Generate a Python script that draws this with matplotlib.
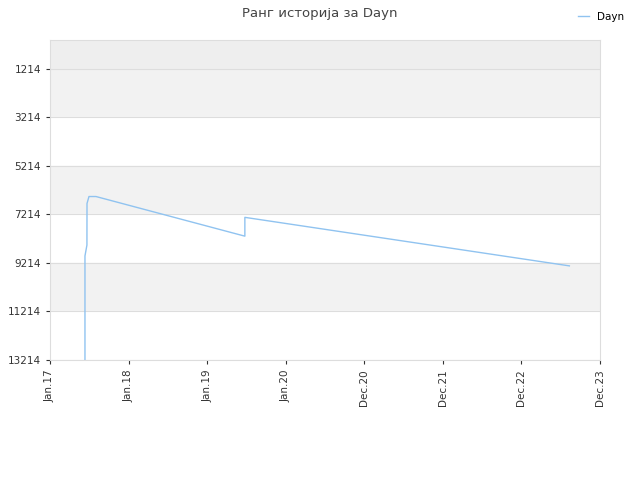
import matplotlib
matplotlib.use("Agg")
import matplotlib.pyplot as plt

x_vals = [0.445, 0.445, 0.47, 0.471, 0.496, 0.585, 2.48, 2.48, 6.61]
ranks = [13214, 8928, 8479, 6765, 6479, 6479, 8112, 7337, 9336]
tick_labels = ["Jan.17", "Jan.18", "Jan.19", "Jan.20", "Dec.20", "Dec.21", "Dec.22", "Dec.23"]
y_ticks = [1214, 3214, 5214, 7214, 9214, 11214, 13214]

fig = plt.figure(figsize=(6.4, 4.8), dpi=100)
ax = fig.add_axes([50/640, 1-360/480, 550/640, 320/480])
top = 1214 - 29/49*2000
ax.set_ylim(13214, top)
ax.set_xlim(0, 7)

# alternating bands
ax.axhspan(top, 1214, color="#eeeeee", zorder=0)
for i, (a, b) in enumerate(zip(y_ticks[:-1], y_ticks[1:])):
    ax.axhspan(a, b, color="#f2f2f2" if i % 2 == 0 else "white", zorder=0)
for t in y_ticks:
    ax.axhline(t, color="#dddddd", lw=0.8, zorder=1)

ax.plot(x_vals, ranks, color="#90c3f0", lw=1, label="Dayn", zorder=2)
ax.set_yticks(y_ticks)
ax.set_xticks(range(8))
ax.set_xticklabels(tick_labels, rotation=90)
ax.tick_params(labelsize=7.5, colors="#333333", length=3)
for s in ax.spines.values():
    s.set_color("#dddddd")
fig.suptitle("Ранг историја за Dayn", fontsize=9.5, color="#444444", y=0.985)
fig.legend(loc="upper right", bbox_to_anchor=(0.99, 0.995), frameon=False, fontsize=7.5, handlelength=1)
fig.savefig("out.png", dpi=100)
